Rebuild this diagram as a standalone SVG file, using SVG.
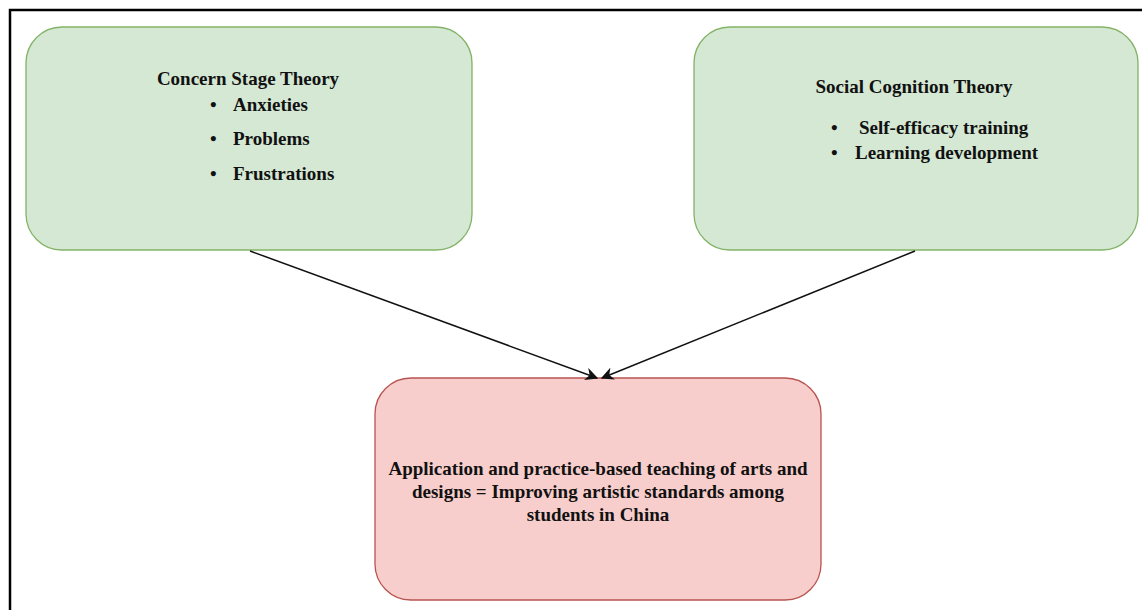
<svg xmlns="http://www.w3.org/2000/svg" width="1142" height="610" viewBox="0 0 1142 610">
<defs>
<style>
.t{font-family:"Liberation Serif","Times New Roman",serif;font-weight:bold;font-size:19px;fill:#111}
.g{fill:#d5e8d4;stroke:#82b366;stroke-width:1.3}
.r{fill:#f8cecc;stroke:#b85450;stroke-width:1.3}
.e{stroke:#111;stroke-width:1.5;fill:none}
</style>
<marker id="ah" viewBox="0 0 10 10" refX="9" refY="5" markerWidth="13" markerHeight="13" markerUnits="userSpaceOnUse" orient="auto"><path d="M0,0 L10,5 L0,10 L3,5 z" fill="#111"/></marker>
</defs>
<rect width="1142" height="610" fill="#fff"/>
<path d="M10,610 V10 H1142" fill="none" stroke="#000" stroke-width="2.5"/>
<g id="concern">
<rect class="g" x="26" y="27" width="446" height="223" rx="36"/>
<text class="t" x="248" y="85" text-anchor="middle">Concern Stage Theory</text>
<text class="t" x="210" y="111">•</text><text class="t" x="233" y="111">Anxieties</text>
<text class="t" x="210" y="145">•</text><text class="t" x="233" y="145">Problems</text>
<text class="t" x="210" y="180">•</text><text class="t" x="233" y="180">Frustrations</text>
</g>
<g id="social">
<rect class="g" x="694" y="27" width="444" height="223" rx="36"/>
<text class="t" x="914" y="93" text-anchor="middle">Social Cognition Theory</text>
<text class="t" x="831" y="134">•</text><text class="t" x="859" y="134">Self-efficacy training</text>
<text class="t" x="831" y="159">•</text><text class="t" x="855" y="159">Learning development</text>
</g>
<g id="application">
<rect class="r" x="375" y="378" width="446" height="222" rx="36"/>
<text class="t" x="598" y="475" text-anchor="middle">Application and practice-based teaching of arts and</text>
<text class="t" x="598" y="498" text-anchor="middle">designs = Improving artistic standards among</text>
<text class="t" x="598" y="521" text-anchor="middle">students in China</text>
</g>
<g id="connectors">
<line class="e" x1="250" y1="251" x2="597" y2="378" marker-end="url(#ah)"/>
<line class="e" x1="915" y1="251" x2="602" y2="378" marker-end="url(#ah)"/>
</g>
</svg>
